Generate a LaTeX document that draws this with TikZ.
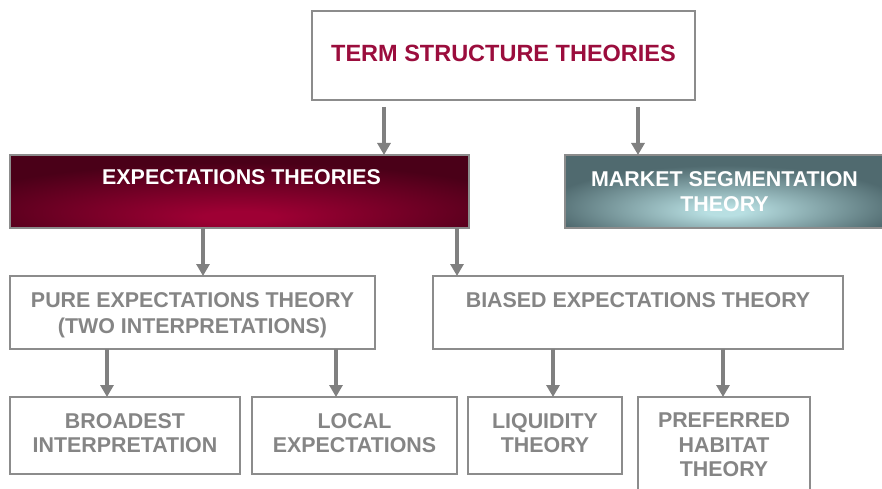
\documentclass[tikz,border=0pt]{standalone}
\usepackage{fontspec}
\setmainfont{Liberation Sans}
\usetikzlibrary{arrows.meta,positioning,calc}
\definecolor{crim}{HTML}{9B0D3D}
\definecolor{rim}{HTML}{8C8C8C}
\definecolor{txtgray}{HTML}{858585}
\definecolor{arrgray}{HTML}{808080}
\definecolor{expin}{HTML}{9E0034}
\definecolor{expout}{HTML}{4A0018}
\definecolor{mktin}{HTML}{B8DFE2}
\definecolor{mktout}{HTML}{506A6F}
\pgfdeclareradialshading{expglow}{\pgfpoint{0bp}{-18bp}}{color(0bp)=(expin); color(4bp)=(expin); color(32bp)=(expout); color(100bp)=(expout)}
\pgfdeclareradialshading{mktglow}{\pgfpoint{0bp}{-14bp}}{color(0bp)=(mktin); color(3bp)=(mktin); color(28bp)=(mktout); color(100bp)=(mktout)}

\begin{document}
\begin{tikzpicture}[x=1pt,y=-1pt,
    box/.style={rectangle,draw=rim,line width=1.4pt,fill=white,inner sep=0pt,outer sep=0pt},
    glowbox/.style={rectangle,draw=rim,line width=1.4pt,inner sep=0pt,outer sep=0pt,shading=#1},
    lbl/.style={font=\bfseries\fontsize{21.4}{24.5}\selectfont,color=txtgray,align=center,anchor=north,inner sep=0pt},
    arr/.style={-{Triangle[width=13pt,length=12pt]},arrgray,line width=3.6pt}]
  \useasboundingbox (0,0) rectangle (882,489);
  % top level
  \node[box,minimum width=383pt,minimum height=89pt] (top) at (503.5,55.5) {};
  \node[lbl,font=\bfseries\fontsize{23.5}{27}\selectfont,color=crim,yshift=-34pt] (topT) at (top.north) {TERM STRUCTURE THEORIES};
  % second level
  \node[glowbox=expglow,minimum width=459pt,minimum height=73pt] (exp) at (239.5,191.5) {};
  \node[lbl,color=white,yshift=-14pt,xshift=2pt] (expT) at (exp.north) {EXPECTATIONS THEORIES};
  \node[glowbox=mktglow,minimum width=319pt,minimum height=73pt] (mkt) at (724.5,191.5) {};
  \node[lbl,color=white,yshift=-16pt,font=\bfseries\fontsize{21.4}{25.5}\selectfont] (mktT) at (mkt.north) {MARKET SEGMENTATION\\THEORY};
  % third level
  \node[box,minimum width=365pt,minimum height=73pt] (pure) at (192.5,312.5) {};
  \node[lbl,yshift=-16pt,font=\bfseries\fontsize{21.4}{26.5}\selectfont] (pureT) at (pure.north) {PURE EXPECTATIONS THEORY\\(TWO INTERPRETATIONS)};
  \node[box,minimum width=410pt,minimum height=73pt] (biased) at (638,312.5) {};
  \node[lbl,yshift=-16pt] (biasedT) at (biased.north) {BIASED EXPECTATIONS THEORY};
  % bottom level
  \node[box,minimum width=230pt,minimum height=77pt] (broad) at (125,435.5) {};
  \node[lbl,yshift=-16pt] (broadT) at (broad.north) {BROADEST\\INTERPRETATION};
  \node[box,minimum width=205pt,minimum height=77pt] (local) at (354.5,435.5) {};
  \node[lbl,yshift=-16pt] (localT) at (local.north) {LOCAL\\EXPECTATIONS};
  \node[box,minimum width=154pt,minimum height=77pt] (liq) at (545,435.5) {};
  \node[lbl,yshift=-16pt] (liqT) at (liq.north) {LIQUIDITY\\THEORY};
  \node[box,minimum width=172pt,minimum height=95pt] (pref) at (724,444.5) {};
  \node[lbl,yshift=-16pt] (prefT) at (pref.north) {PREFERRED\\HABITAT\\THEORY};
  % arrows
  \foreach \src/\dx/\gap/\dst in {top/72/7/exp, top/326/7/mkt, exp/193/0/pure, exp/447/0/biased,
      pure/97/0/broad, pure/326/0/local, biased/120/0/liq, biased/290/0/pref}
    \draw[arr] ([xshift=\dx pt,yshift=-\gap pt]\src.south west) -- ([xshift=\dx pt]\src.south west |- \dst.north);
\end{tikzpicture}
\end{document}
